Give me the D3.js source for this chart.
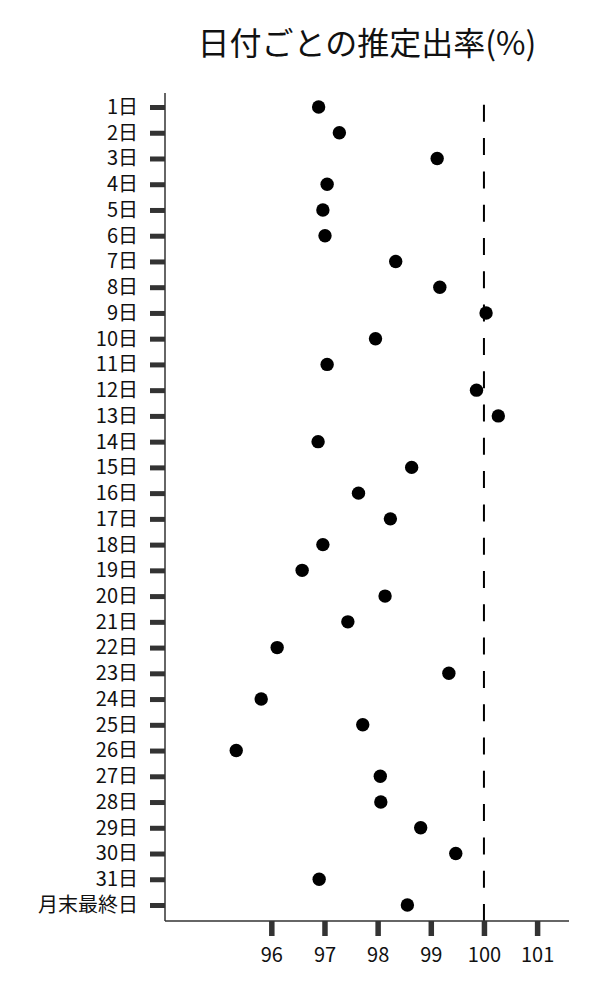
<!DOCTYPE html>
<html>
<head>
<meta charset="utf-8">
<script src="https://cdn.jsdelivr.net/npm/d3@7"></script>
<style>
  body { margin: 0; background: #fff; }
  text { font-family: "Noto Sans CJK JP", "Noto Sans", sans-serif; }
</style>
</head>
<body>
<div class="viz"></div>
<script>
// Day labels (y categories)
const days = [
  "1日", "2日", "3日", "4日", "5日", "6日", "7日", "8日", "9日", "10日",
  "11日", "12日", "13日", "14日", "15日", "16日", "17日", "18日", "19日", "20日",
  "21日", "22日", "23日", "24日", "25日", "26日", "27日", "28日", "29日", "30日",
  "31日", "月末最終日"
];

// Estimated rate (%) per day
const rates = [
  96.89, 97.28, 99.12, 97.05, 96.97, 97.01, 98.34, 99.17, 100.04, 97.96,
  97.05, 99.86, 100.27, 96.88, 98.64, 97.64, 98.24, 96.97, 96.58, 98.14,
  97.44, 96.11, 99.34, 95.81, 97.72, 95.34, 98.05, 98.06, 98.81, 99.47,
  96.90, 98.56
];

const xTicks = [96, 97, 98, 99, 100, 101];
const refValue = 100;
const title = "日付ごとの推定出率(%)";

const data = days.map((d, i) => ({ day: d, value: rates[i] }));

const totalWidth = 600;
const totalHeight = 1000;
const plot = { left: 165, right: 569, top: 93, bottom: 921 };

const svg = d3
  .select(".viz")
  .append("svg")
  .attr("width", totalWidth)
  .attr("height", totalHeight);

// Scales
const xScale = d3.scaleLinear().domain([94, 101.6]).range([plot.left, plot.right]);
const yScale = d3.scalePoint().domain(days).range([107, 905]);

// Title
svg.append("text")
  .attr("x", (plot.left + plot.right) / 2)
  .attr("y", 55)
  .attr("text-anchor", "middle")
  .attr("fill", "#111")
  .style("font-size", "32px")
  .text(title);

// Reference line at 100
svg.append("line")
  .attr("x1", xScale(refValue))
  .attr("x2", xScale(refValue))
  .attr("y1", plot.bottom)
  .attr("y2", plot.top)
  .attr("stroke", "#000")
  .attr("stroke-width", 2)
  .attr("stroke-dasharray", "17,16.3");

// Y axis
const yAxis = svg.append("g")
  .attr("transform", `translate(${plot.left},0)`)
  .call(d3.axisLeft(yScale).tickSize(15).tickPadding(12));
yAxis.select(".domain").remove();
yAxis.selectAll(".tick line").attr("stroke", "#333").attr("stroke-width", 5);
yAxis.selectAll(".tick text")
  .attr("fill", "#111")
  .style("font-size", "20px")
  .style("font-family", '"Noto Sans CJK JP", sans-serif');

// X axis
const xAxis = svg.append("g")
  .attr("transform", `translate(0,${plot.bottom})`)
  .call(d3.axisBottom(xScale).tickValues(xTicks).tickSize(15).tickPadding(12));
xAxis.select(".domain").remove();
xAxis.selectAll(".tick line").attr("stroke", "#333").attr("stroke-width", 5.5);
xAxis.selectAll(".tick text")
  .attr("fill", "#111")
  .style("font-size", "20px")
  .style("font-family", '"Noto Sans CJK JP", sans-serif');

// Axis spines
svg.append("line")
  .attr("x1", plot.left).attr("x2", plot.left)
  .attr("y1", plot.top).attr("y2", plot.bottom)
  .attr("stroke", "#333").attr("stroke-width", 1.5);
svg.append("line")
  .attr("x1", plot.left).attr("x2", plot.right)
  .attr("y1", plot.bottom).attr("y2", plot.bottom)
  .attr("stroke", "#333").attr("stroke-width", 1.5);

// Points
svg.selectAll(".dot")
  .data(data)
  .enter()
  .append("circle")
  .attr("class", "dot")
  .attr("cx", (d) => xScale(d.value))
  .attr("cy", (d) => yScale(d.day))
  .attr("r", 6.7)
  .attr("fill", "#000");
</script>
</body>
</html>
